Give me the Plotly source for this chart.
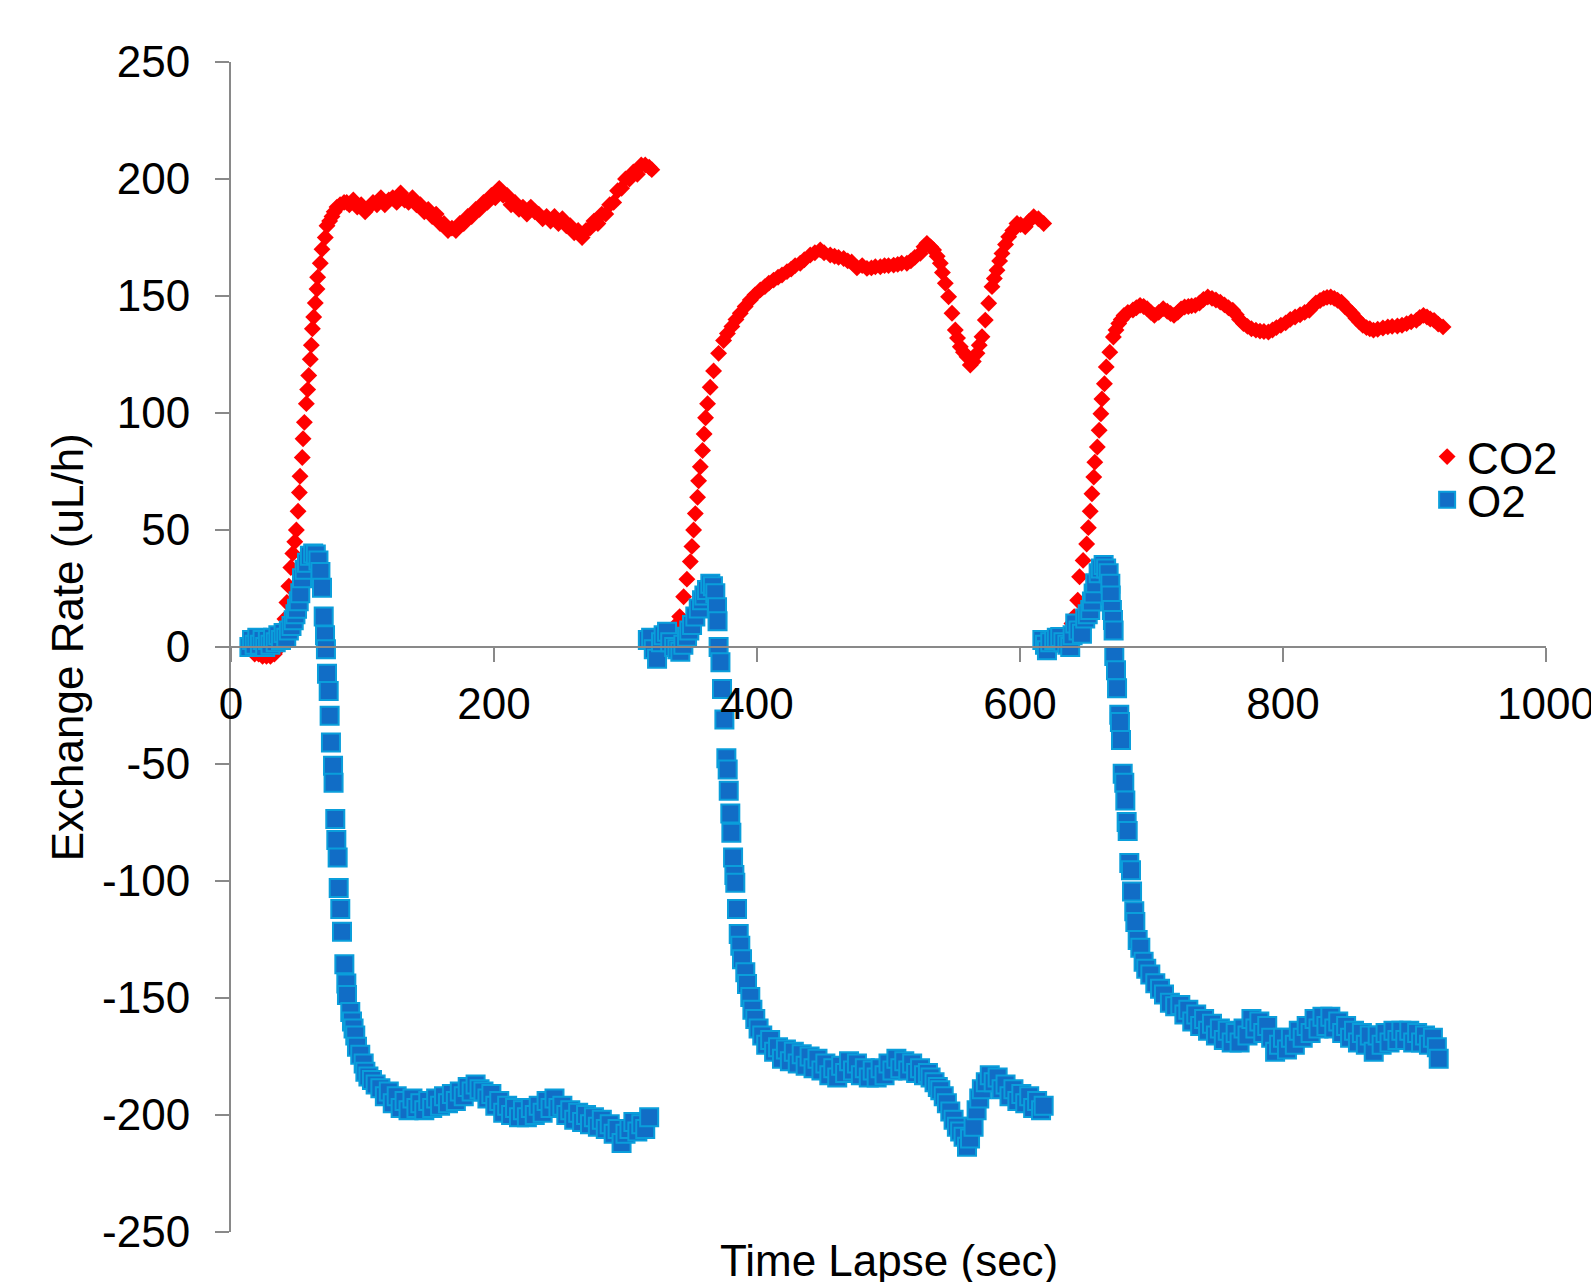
import plotly.graph_objects as go

# ---------------- data ----------------
# CO2 exchange rate, three runs
co2_run1_t = [18, 21, 24, 27, 30, 33, 35.5, 37.5, 39.5, 41, 42.5, 44, 45.5, 47, 48.5, 49.7, 51, 52, 52.5, 54.2,
              54.8, 55.8, 57.3, 58.3, 59.1, 60.3, 61.1, 61.9, 62.9, 64.1, 65.4, 65.9, 67.9, 69.2, 71.7, 73, 75, 76.8,
              78.5, 80.6, 83, 86, 88,
              90, 93, 96, 99, 102, 105, 108, 111, 114, 117, 120, 123, 126, 129, 132, 135, 138, 141, 144, 147, 150,
              153, 156, 159, 162, 165, 168, 171, 174, 177, 180, 183, 186, 189, 192, 195, 198, 201, 204, 207, 210,
              213, 216, 219, 222, 225, 228, 231, 234, 237, 240, 243, 246, 249, 252, 255, 258, 261, 264, 267, 270,
              273, 276, 279, 282, 285, 288, 291, 294, 297, 300, 303, 306, 309, 312, 315, 318, 320]
co2_run1_v = [-3, -3, -4, -4, -4, -3, -1, 1, 6, 12, 19, 26, 34, 40, 45, 50, 58, 66, 73, 81,
              89, 96, 104, 110, 116, 123, 129, 136, 141, 147, 153, 158, 164, 170, 175, 180, 182, 184,
              186, 188, 189, 190, 190,
              189, 191, 188, 189, 186, 188, 190, 189, 192, 189, 191, 192, 190, 194, 191, 190, 192, 189, 189, 186,
              187, 184, 185, 181, 181, 178, 179, 178, 181, 181, 184, 184, 187, 187, 190, 190, 193, 192, 196, 193,
              193, 189, 190, 187, 188, 185, 188, 186, 185, 183, 184, 182, 184, 181, 183, 180, 180, 177, 178, 175,
              178, 179, 182, 181, 185, 185, 189, 190, 195, 196, 200, 200, 203, 202, 206, 206, 205, 204]

co2_run2_t = [322, 326, 330, 334, 337, 339.5, 341.2, 344.2, 346.7, 349.3, 350.5, 351.8, 353.1, 354.8, 355.6, 356.9,
              358.6, 359.8, 360.9, 362.4, 364.4, 367, 370.8, 374.6, 377.5, 380.9, 384, 387.3, 391, 394.9, 398.5,
              402.5, 406, 409, 412.6, 416, 419, 422.8, 426, 429, 432.9, 436, 440.5, 444, 448.1, 451, 455.7, 459,
              462, 465.9, 469, 472, 476, 480, 483.6, 487, 490, 493.8, 497, 500, 503.9, 507, 510, 514, 517, 520,
              524.2, 527, 529.2, 532, 534.3, 537, 539.4, 541, 543.2, 545.7, 548.3, 550.8, 552.5, 554.6, 557, 559.7,
              562.2, 564.5, 567.3, 569, 571.1, 573.6, 576.2, 578.7, 580.5, 582.5, 584.5, 586.3, 589, 591.4, 594.5,
              597.7, 600.5, 604, 607, 610.4, 614, 618]
co2_run2_v = [-1, 0, 1, 3, 6, 10, 13, 21.5, 29, 36.5, 43, 50, 57, 64, 71, 77,
              84, 91, 98, 104, 111, 118, 125.5, 131, 134, 137, 140, 142.6, 145.5, 148.3, 150.5,
              152.6, 154, 155.5, 156.8, 158, 159, 160.4, 161.5, 163, 164, 165.5, 167.5, 168.5, 169.7, 168.5, 167.5,
              167, 166.5, 166, 165, 164.5, 162, 163, 161.8, 162, 162.5, 162.5, 163, 163, 163.2, 163.5, 164, 164,
              165, 166.5, 168.2, 171, 172.5, 171, 169.7, 167, 164, 160, 155.4, 149.7, 142.6, 135.5, 132, 128.3,
              126, 124, 120.5, 122, 125.5, 129, 132.6, 139.7, 146.9, 154, 157.5, 161, 165, 168.2, 172, 175.3, 178,
              181, 180.5, 179.6, 182, 183.9, 183, 181]

co2_run3_t = [620, 624, 628, 632, 635, 637.5, 639.5, 641.2, 643.9, 645.3, 648, 650.7, 652, 653.4, 654.7, 656.1,
              656.9, 658.8, 660.2, 661.5, 662.3, 664.2, 665.6, 668.3, 671, 673, 675.1, 677, 679.1, 682, 685.9,
              688.5, 691.3, 694, 696.7, 699.5, 702.2, 705.5, 708.9, 712, 714.5, 717.1, 720, 722.5, 725.2, 728,
              730.5, 733.3, 736.5, 739.5, 742.8, 746, 749, 752.3, 755.5, 758.5, 761.8, 764.5, 767, 769.9, 773, 776,
              779.4, 782.5, 785.5, 788.9, 792, 795, 798.4, 802, 805.5, 809.2, 813, 816.5, 820, 822.5, 825, 828.2,
              831, 833.5, 836.3, 839, 841.5, 844.4, 847, 850, 852.6, 855.5, 858, 860.7, 863.5, 866, 868.8, 872,
              876, 879.7, 883, 887, 890.5, 894, 897.5, 901.4, 904, 906.8, 909.5, 912, 914.9, 918, 921.7]
co2_run3_v = [-1, 0, 1, 2, 4, 7, 10, 13, 20, 30, 37, 44, 51, 58, 65.5, 72.6,
              79, 85.5, 92.6, 99.7, 106, 112.5, 119.7, 126, 132.5, 135.5, 138.2, 140, 141.7, 143, 144,
              145, 146, 145.5, 144.6, 143, 141.7, 143, 144.6, 143.5, 142.5, 141.7, 143, 144.5, 145.3, 145.5,
              145.8, 146, 147, 148.5, 149.6, 149, 148.3, 147.4, 146.2, 145, 143.9, 142, 140, 138.2, 137, 136,
              135.4, 135, 134.8, 134.6, 135.5, 136.5, 137.5, 138.5, 140, 141, 142, 143, 143.9, 145.5, 147, 148.1,
              149, 149.4, 149.6, 149, 148.2, 147.4, 145.5, 144, 142.5, 140.5, 139, 137.5, 136.5, 136, 135.4, 135.8,
              136.3, 136.8, 137, 137.2, 137.5, 138.2, 139, 139.6, 140.8, 141.7, 141, 140.2, 139.6, 138, 136.8]

# O2 exchange rate, three runs
o2_run1_t = [14, 16, 18, 20, 22, 24, 26, 28, 30, 32, 34, 36, 38, 40, 42, 44, 46, 47.7, 49, 50.2, 51.5, 52.7, 54,
             56, 57.8, 60, 62.5, 64.5, 66.5, 68, 69.2, 70.5, 71.5, 72.2, 73, 74.3, 75, 76, 77.6, 78, 79.3, 80.1,
             81.1, 81.9, 83.1, 84.4, 86.2, 87.7, 88.2, 90.7, 92, 93.2, 94.5, 95.8, 98.3, 100.9, 102.2, 104.5,
             107.2, 110,
             113.6, 117, 120, 123, 126, 129, 132, 135, 138, 141, 144, 147, 150, 153, 156, 159, 162, 165, 168,
             171, 174, 177, 180, 183, 186, 189, 192, 195, 198, 201, 204, 207, 210, 213, 216, 219, 222, 225, 228,
             231, 234, 237, 240, 243, 246, 249, 252, 255, 258, 261, 264, 267, 270, 273, 276, 279, 282, 285, 288,
             291, 294, 297, 300, 303, 306, 309, 312, 315, 318]
o2_run1_v = [0, 3, 1, 4, 1, 3, 0, 3, 1, 4, 2, 5, 3, 6, 4, 7, 9, 11.4, 14, 16.3, 19.5, 23, 29.4,
             33, 36, 39, 40, 39.5, 37, 32, 25.3, 13, 5, -1, -11.4, -18.8, -29.4, -40.8, -50.7, -58, -73.5, -82.5,
             -90, -103, -112, -121.7, -135.6, -143.8, -148.7, -156, -160, -163, -166, -170.8, -174.3, -178, -181.5,
             -183.5, -185, -187,
             -188.6, -192, -190, -195, -192, -197, -194, -198, -193, -197, -195, -198, -194, -197, -193, -196,
             -192, -195, -191, -194, -190, -192, -188, -190, -187, -189, -190, -193, -191, -196, -194, -199, -196,
             -200, -197, -201, -198, -201, -197, -200, -196, -199, -194, -197, -193, -197, -196, -200, -198, -202,
             -199, -203, -200, -204, -201, -205, -202, -206, -204, -208, -206, -212, -208, -206, -203, -207, -204,
             -206, -201]

o2_run2_t = [317, 319.5, 321.5, 324, 327, 329, 331.6, 334, 337, 339.5, 341.7, 344, 346.8, 348.5, 350.6, 353.1,
             355.7, 358.2, 360, 362, 364.5, 366.5, 368.3, 369.6, 370, 370.8, 372.2, 373.4, 375.2, 376.7, 377.7,
             378.5, 379.7, 380.5, 381.8, 382.8, 383.5, 384.8, 386.1, 387.3, 388.6, 391.1, 392.4, 394.9, 396.5,
             398.7, 401.2,
             404, 407, 410, 413, 416, 419, 422, 425, 428, 431, 434, 437, 440, 443, 446, 449, 452, 455, 458, 461,
             464, 467, 470, 473, 476, 479, 482, 485, 488, 491, 494, 497, 500, 503, 506, 509, 512, 515, 518, 521,
             524, 527, 530,
             532, 535, 537.5, 539.4, 542, 544.4, 547, 549.5, 552, 554.5, 557.1, 559.7,
             562, 564.7, 567, 569, 571, 574, 577, 580, 583, 586, 589, 592, 595, 598, 601, 604, 607, 610, 613, 616,
             618]
o2_run2_v = [3, 4, -1, -5, 2, 5, 6.5, 2, 0, -1, -2, 1, 4.4, 7, 9.4, 13,
             16.5, 20, 22, 24.4, 27, 26, 23, 17, 11, 0, -6.5, -18, -31, -47.5, -52.4,
             -61.4, -71.2, -79.4, -90, -97.4, -100.7, -112, -122.7, -127.7, -133.4, -139, -144, -149.6, -155,
             -159, -163,
             -166, -170, -168, -173, -171, -176, -172, -177, -173, -178, -174, -179, -175, -180, -176, -181, -178,
             -183, -180, -184, -179, -182, -177, -181, -178, -183, -180, -184, -181, -184, -180, -183, -178, -181,
             -176, -180, -177, -181, -178, -182, -180, -183, -182,
             -184, -186, -188, -189.4, -192, -195, -198.5, -202, -205, -207, -209.3, -213.6,
             -210, -205, -198, -193, -189, -186, -183, -186, -184, -189, -187, -192, -189, -194, -191, -195, -192,
             -197, -194, -198, -196]

o2_run3_t = [617, 619, 620.5, 623, 626, 628, 630.6, 633, 636, 638.2, 640, 642, 644.5, 647.1, 649.6, 651.5, 653.4,
             654.7, 656, 657.2, 659.8, 661.5, 663.6, 665.5, 667.4, 668.7, 669, 669.9, 670.7, 671.2, 671.7, 673,
             673.8, 675.5, 676, 676.8, 678.1, 679.3, 680.1, 681.1, 681.9, 683.1, 684.4, 685.2, 686.9, 687.7,
             689.5, 691.5, 694, 696, 699.1, 702.9, 706.5, 709.5, 714, 718,
             721.9, 725, 728, 731, 734, 737, 740, 743, 746, 749, 752, 755, 758, 761, 764, 767, 770, 773, 776, 779,
             782, 785, 788, 791, 794, 797, 800, 803, 806, 809, 812, 815, 818, 821, 824, 827, 830, 833, 836, 839,
             842, 845, 848, 851, 854, 857, 860, 863, 866, 869, 872, 875, 878, 881, 884, 887, 890, 893, 896, 899,
             902, 905, 908, 911, 914, 917, 918.4]
o2_run3_v = [3, 1, -1.4, 2, 3, 4, 4.3, 2, 1, 0, 5, 10, 7, 5.7, 12.2, 14, 15.8,
             19.4, 22.9, 27.2, 31.5, 33.5, 35, 33.5, 31.5, 27, 22, 15.8, 11.5, 7, -3.8, -9.9,
             -17.6, -29, -32, -39.7, -54.2, -58, -65.6, -74.8, -78.6, -92.3, -95.4, -104.5, -112.9, -117.5,
             -125.2, -128.5, -134.5, -137.5, -140, -143.7, -146, -148.5, -152, -153.5,
             -153, -157, -155, -160, -157, -162, -159, -164, -161, -166, -163, -168, -164, -169, -165, -169, -163,
             -166, -159, -163, -160, -165, -162, -167, -173, -170, -167, -172, -167, -170, -164, -167, -162, -165,
             -159, -163, -158, -162, -158, -163, -160, -165, -162, -167, -164, -169, -165, -170, -166, -173, -166,
             -170, -165, -169, -164, -168, -164, -168, -164, -169, -165, -169, -166, -170, -167, -171, -176]

# tick labels (hyphen minus as in the reference)
x_tick_vals = [0, 200, 400, 600, 800, 1000]
x_tick_text = ["0", "200", "400", "600", "800", "1000"]
y_tick_vals = [-250, -200, -150, -100, -50, 0, 50, 100, 150, 200, 250]
y_tick_text = ["-250", "-200", "-150", "-100", "-50", "0", "50", "100", "150", "200", "250"]

axis_title_x = "Time Lapse (sec)"
axis_title_y = "Exchange Rate (uL/h)"

# ---------------- figure ----------------
FONT = "Arial, 'Liberation Sans', sans-serif"
AXIS_GRAY = "#898989"

co2_t = co2_run1_t + co2_run2_t + co2_run3_t
co2_v = co2_run1_v + co2_run2_v + co2_run3_v
o2_t = o2_run1_t + o2_run2_t + o2_run3_t
o2_v = o2_run1_v + o2_run2_v + o2_run3_v

fig = go.Figure()
fig.add_trace(go.Scatter(
    x=co2_t, y=co2_v, mode="markers", name="CO2", legend="legend",
    marker=dict(symbol="diamond", size=13, color="#FF0000", line=dict(width=0)),
))
fig.add_trace(go.Scatter(
    x=o2_t, y=o2_v, mode="markers", name="O2", legend="legend2",
    marker=dict(symbol="square", size=18, color="#116DC6", line=dict(width=2, color="#0A9EDB")),
))

fig.update_layout(
    width=1591, height=1282,
    margin=dict(l=231, r=45, t=62, b=50, pad=0, autoexpand=False),
    paper_bgcolor="white", plot_bgcolor="white",
    font=dict(family=FONT, size=44, color="black"),
    showlegend=True,
    legend=dict(x=0.9096, y=0.6624, xanchor="left", yanchor="middle",
                bgcolor="rgba(0,0,0,0)", borderwidth=0, font=dict(size=44, family=FONT)),
    legend2=dict(x=0.9096, y=0.6256, xanchor="left", yanchor="middle",
                 bgcolor="rgba(0,0,0,0)", borderwidth=0, font=dict(size=44, family=FONT)),
    xaxis=dict(range=[0, 1000], tickmode="array", tickvals=x_tick_vals, ticktext=x_tick_text,
               showgrid=False, zeroline=False, automargin=False,
               showline=True, linecolor=AXIS_GRAY, linewidth=2,
               ticks="outside", ticklen=14, tickwidth=2, tickcolor=AXIS_GRAY,
               anchor="free", position=0.5, ticklabelstandoff=4, ticklabeloverflow="allow",
               tickfont=dict(size=44, family=FONT, color="black")),
    yaxis=dict(range=[-250, 250], tickmode="array", tickvals=y_tick_vals, ticktext=y_tick_text,
               showgrid=False, zeroline=False, automargin=False,
               showline=True, linecolor=AXIS_GRAY, linewidth=2,
               ticks="outside", ticklen=14, tickwidth=2, tickcolor=AXIS_GRAY,
               ticklabelstandoff=16, ticklabeloverflow="allow",
               tickfont=dict(size=44, family=FONT, color="black")),
    annotations=[
        dict(text=axis_title_x, xref="paper", yref="paper", x=0.5, y=-0.024,
             xanchor="center", yanchor="middle", showarrow=False,
             font=dict(size=44, family=FONT, color="black")),
        dict(text=axis_title_y, xref="paper", yref="paper", x=-0.1245, y=0.5,
             xanchor="center", yanchor="middle", textangle=-90, showarrow=False,
             font=dict(size=44, family=FONT, color="black")),
    ],
)

fig.write_html("out.html", config={"displayModeBar": False},
               post_script="document.body.style.margin='0';document.body.style.overflow='hidden';")
